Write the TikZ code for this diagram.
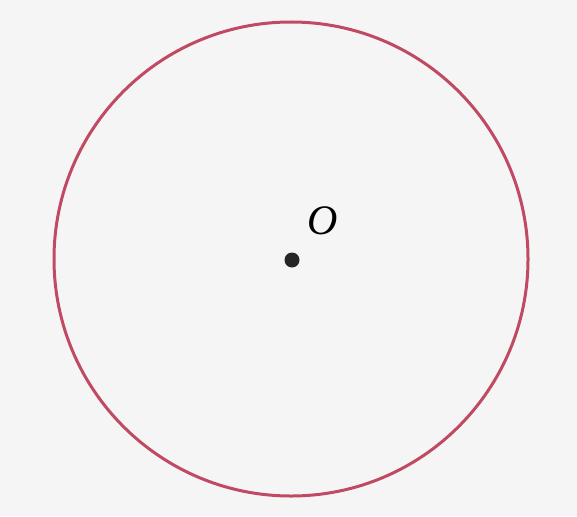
\documentclass[tikz,border=0pt]{standalone}
\usepackage{fontspec}
\setmainfont{Liberation Serif}
\begin{document}
\begin{tikzpicture}[x=1pt,y=-1pt,
  rim/.style={draw=circ,line width=3pt},
  ctr/.style={circle,fill=black!85,inner sep=0pt,minimum size=15pt},
  lbl/.style={font=\fontsize{42}{44}\selectfont\itshape}]
\definecolor{circ}{HTML}{C04A63}
\fill[fill={rgb,255:red,245;green,245;blue,245}] (0,0) rectangle (577,516);
\useasboundingbox (0,0) rectangle (577,516);
\node[ctr] (o) at (292,260) {};
\draw[rim] (291,259) circle (237);
\node[lbl] (ol) at (323,221) {O};
\end{tikzpicture}
\end{document}
